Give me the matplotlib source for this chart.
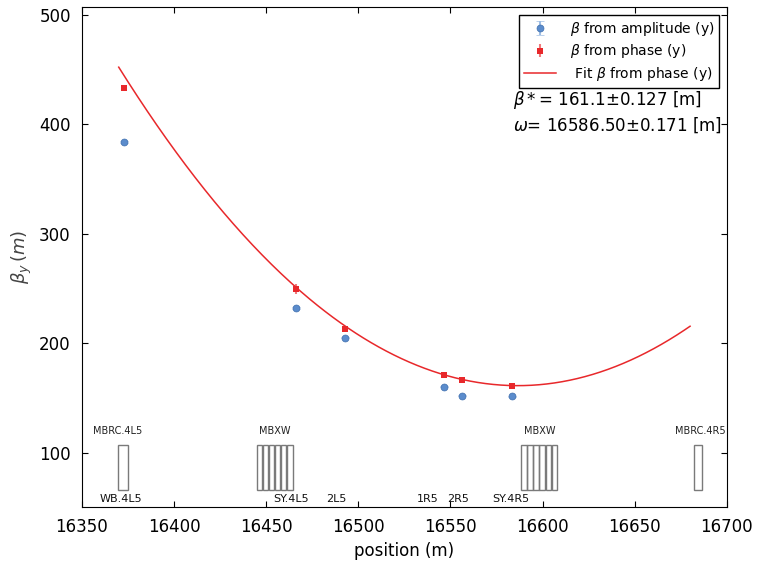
import numpy as np
import matplotlib.pyplot as plt
from matplotlib.patches import Rectangle

# BPM positions and measured beta functions (y plane)
s_bpm = [16372.8, 16466.0, 16492.7, 16546.4, 16556.0, 16583.3]
beta_amp = [383.5, 232.0, 205.0, 160.0, 152.0, 151.5]
beta_amp_err = [0.8, 0.8, 0.6, 0.5, 0.5, 0.5]
beta_phase = [433.0, 249.5, 213.0, 170.5, 166.5, 160.5]
beta_phase_err = [3.0, 4.5, 1.5, 1.2, 1.2, 1.0]

# fit result: beta(s) = beta* + (s - w)^2 / beta*
beta_star = 161.1
beta_star_err = 0.127
waist = 16586.50
waist_err = 0.171
fit_range = [16370, 16680]

# elements drawn along the bottom: (start, length)
magnets = [(16369.7, 5.3),
           (16444.8, 3.0), (16448.1, 3.0), (16451.4, 3.0),
           (16454.7, 3.0), (16458.0, 3.0), (16461.3, 3.0),
           (16588.4, 3.0), (16591.7, 3.0), (16595.0, 3.0),
           (16598.3, 3.0), (16601.6, 3.0), (16604.9, 3.0),
           (16682.0, 4.7)]
magnet_names = ['MBRC.4L5', 'MBXW', 'MBXW', 'MBRC.4R5']
magnet_name_pos = [16369.5, 16454.7, 16598.5, 16685.3]
bpm_names = ['WB.4L5', 'SY.4L5', '2L5', '1R5', '2R5', 'SY.4R5']
bpm_name_pos = [16371.2, 16463.4, 16487.8, 16537.7, 16554.0, 16582.8]

fig = plt.figure(figsize=(7.58, 5.62), dpi=100)
ax = fig.add_axes([0.108, 0.098, 0.851, 0.8895])

blue = '#5b8ccc'
red = '#e8282b'

h_amp = ax.errorbar(s_bpm, beta_amp, yerr=beta_amp_err, fmt='o', color=blue,
                    ecolor='#9fbde3', markersize=5, markeredgewidth=0.5,
                    markeredgecolor='#3f6fae', capsize=3, linestyle='none',
                    label=r'$\beta$ from amplitude (y)')
h_ph = ax.errorbar(s_bpm, beta_phase, yerr=beta_phase_err, fmt='s', color=red,
                   ecolor='#ee7a7c', markersize=4, markeredgewidth=0,
                   capsize=4.5, linestyle='none',
                   label=r'$\beta$ from phase (y)')

s_fit = np.linspace(fit_range[0], fit_range[1], 300)
h_fit, = ax.plot(s_fit, beta_star + (s_fit - waist) ** 2 / beta_star, '-',
                 color=red, lw=1.1, label=r' Fit $\beta$ from phase (y)')

for start, length in magnets:
    ax.add_patch(Rectangle((start, 66), length, 41, fill=False,
                           edgecolor='#7a7a7a', lw=1))
for name, x in zip(magnet_names, magnet_name_pos):
    ax.text(x, 120, name, ha='center', va='center', fontsize=7, color='#222222')
for name, x in zip(bpm_names, bpm_name_pos):
    ax.text(x, 57.5, name, ha='center', va='center', fontsize=8, color='#111111')

ax.set_xlim(16350, 16700)
ax.set_ylim(50.3, 507)
ax.set_yticks([100, 200, 300, 400, 500])
ax.tick_params(direction='in', top=True, right=True, labelsize=12,
               length=4, pad=8)
ax.set_xlabel('position (m)', fontsize=12)
ax.set_ylabel(r'$\beta_y\,(m)$', fontsize=13, color='#444444')

leg = ax.legend([h_amp, h_ph, h_fit],
                [h_amp.get_label(), h_ph.get_label(), h_fit.get_label()],
                loc='upper right', fontsize=10, fancybox=False,
                framealpha=1, edgecolor='black', borderaxespad=0.55,
                labelspacing=0.35, handlelength=2.3, handletextpad=1.0,
                borderpad=0.35)
leg.get_frame().set_linewidth(1.0)

ax.text(0.668, 0.814, r'$\beta*$= %.1f$\pm$%.3f [m]' % (beta_star, beta_star_err),
        transform=ax.transAxes, fontsize=12, va='center')
ax.text(0.668, 0.764, r'$\omega$= %.2f$\pm$%.3f [m]' % (waist, waist_err),
        transform=ax.transAxes, fontsize=12, va='center')

fig.savefig('out.png', dpi=100)
